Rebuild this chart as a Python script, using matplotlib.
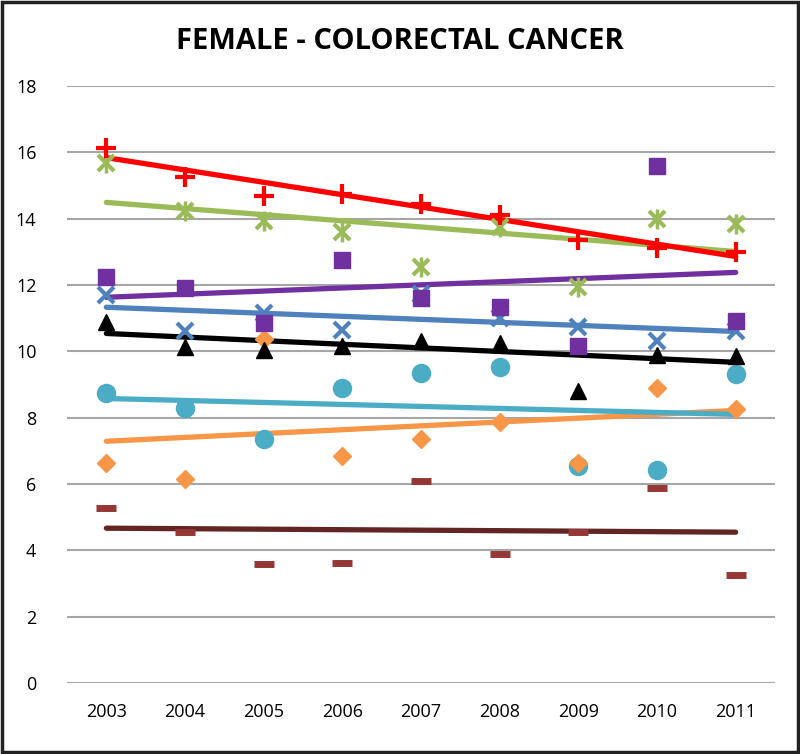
import numpy as np
import matplotlib.pyplot as plt
from matplotlib.patches import Rectangle

years = [2003, 2004, 2005, 2006, 2007, 2008, 2009, 2010, 2011]

red_plus = [16.14, 15.27, 14.67, 14.73, 14.43, 14.10, 13.37, 13.13, 12.98]
green_star = [15.69, 14.22, 13.92, 13.61, 12.53, 13.75, 11.93, 13.98, 13.83]
purple_sq = [12.23, 11.90, 10.87, 12.74, 11.60, 11.33, 10.15, 15.60, 10.93]
blue_x = [11.69, 10.60, 11.17, 10.63, 11.72, 11.00, 10.72, 10.30, 10.60]
black_tri = [10.90, 10.12, 10.03, 10.15, 10.30, 10.24, 8.82, 9.90, 9.85]
cyan_circ = [8.76, 8.28, 7.35, 8.89, 9.34, 9.52, 6.54, 6.42, 9.31]
orange_dia = [6.63, 6.14, 10.36, 6.84, 7.35, 7.86, 6.63, 8.89, 8.25]
darkred_dash = [5.27, 4.55, 3.58, 3.61, 6.08, 3.89, 4.55, 5.87, 3.25]

# linear trend lines as drawn in the original (value at 2003, value at 2011)
trend_red = [15.84, 12.86]
trend_green = [14.49, 13.01]
trend_purple = [11.63, 12.38]
trend_blue = [11.33, 10.60]
trend_black = [10.54, 9.67]
trend_cyan = [8.58, 8.10]
trend_orange = [7.29, 8.22]
trend_darkred = [4.67, 4.55]

x = np.array(years)
x_ends = [years[0], years[-1]]

fig = plt.figure(figsize=(8, 7.54), dpi=100)
fig.patches.append(Rectangle((0.002, 0.002), 0.996, 0.996, transform=fig.transFigure,
                             fill=False, edgecolor='#222222', linewidth=2.5))
ax = fig.add_axes([0.08375, 0.094, 0.885, 0.792])

font = 'Open Sans'

for v in range(0, 19, 2):
    ax.axhline(v, color='#a6a6a6', linewidth=1.5, zorder=0)


def trend(vals, color):
    ax.plot(x_ends, vals, color=color, linewidth=3.8, solid_capstyle='round', zorder=2)


# trend lines
trend(trend_darkred, '#632523')
trend(trend_orange, '#f79646')
trend(trend_cyan, '#4bacc6')
trend(trend_black, 'black')
trend(trend_blue, '#4f81bd')
trend(trend_purple, '#7030a0')
trend(trend_green, '#9bbb59')
trend(trend_red, '#ff0000')

# markers
ax.plot(x, darkred_dash, linestyle='none', marker='_', markersize=14, mew=5, color='#953735', zorder=4)
ax.plot(x, cyan_circ, linestyle='none', marker='o', markersize=13, color='#4bacc6', zorder=4)
ax.plot(x, orange_dia, linestyle='none', marker='D', markersize=9, color='#f79646', zorder=4)
ax.plot(x, black_tri, linestyle='none', marker='^', markersize=12, color='black', zorder=4)
ax.plot(x, blue_x, linestyle='none', marker='x', markersize=12, mew=3, color='#4f81bd', zorder=4)
ax.plot(x, purple_sq, linestyle='none', marker='s', markersize=12, color='#7030a0', zorder=4)
ax.plot(x, green_star, linestyle='none', marker='x', markersize=12, mew=3, color='#9bbb59', zorder=4)
ax.plot(x, green_star, linestyle='none', marker='|', markersize=15, mew=2.5, color='#9bbb59', zorder=4)
ax.plot(x, red_plus, linestyle='none', marker='+', markersize=14, mew=3, color='#ff0000', zorder=4)

ax.set_xlim(2002.5, 2011.5)
ax.set_ylim(0, 18)
ax.set_yticks(range(0, 19, 2))
ax.set_xticks(years)
ax.set_xticklabels([str(y) for y in years], fontsize=13, fontfamily=font)
ax.set_yticklabels([str(v) for v in range(0, 19, 2)], fontsize=13, fontfamily=font)
ax.tick_params(length=0, pad=14)
ax.tick_params(axis='y', pad=22)
for s in ax.spines.values():
    s.set_visible(False)

fig.text(0.5, 0.945, 'FEMALE - COLORECTAL CANCER', ha='center', va='center',
         fontsize=21, fontweight='bold', fontfamily=font)

plt.savefig('out.png', dpi=100)
